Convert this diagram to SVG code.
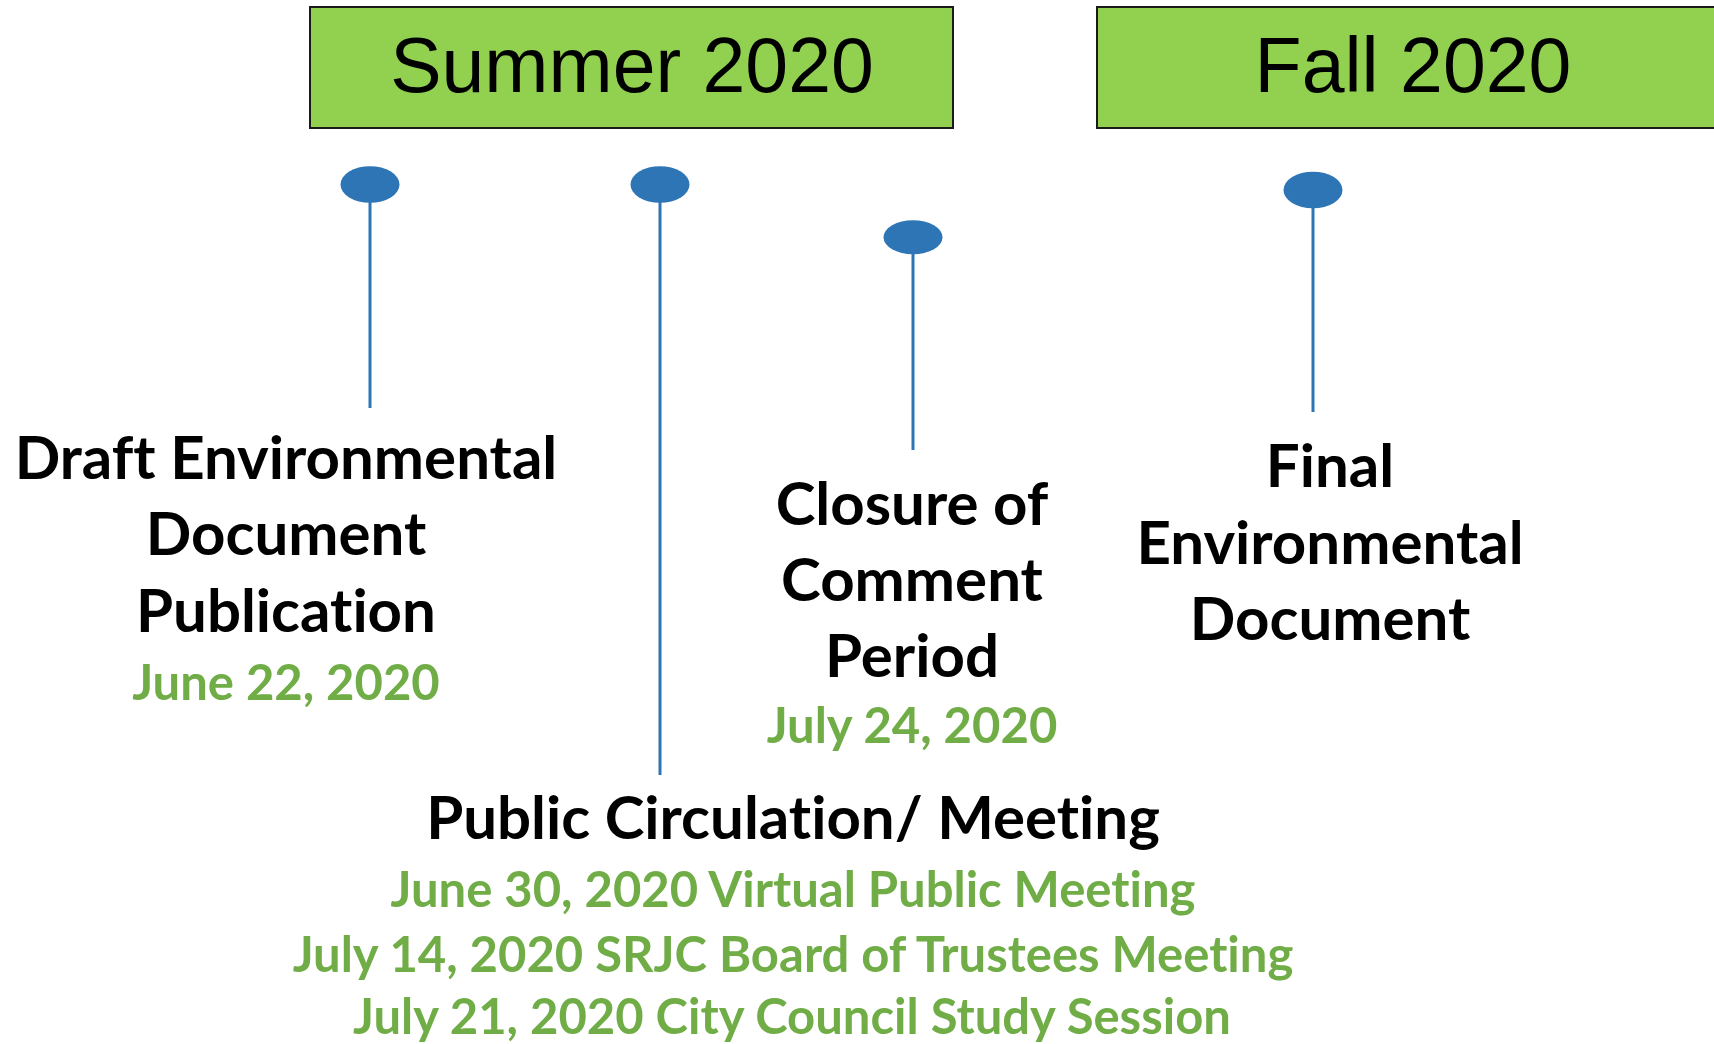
<svg xmlns="http://www.w3.org/2000/svg" width="1714" height="1044" viewBox="0 0 1714 1044">
<style>
.season{fill:#92D050;stroke:#1a1a1a;stroke-width:2}
.stitle{font-family:"Liberation Sans",Arial,sans-serif;font-size:77px;fill:#000;text-anchor:middle}
.pin{fill:#2E75B6}
.stem{stroke:#2E75B6;stroke-width:3;fill:none}
.lbl{font-family:Lato,"Noto Sans",sans-serif;font-weight:700;font-size:60px;fill:#000;text-anchor:middle;font-variant-ligatures:none}
.date{font-family:Lato,"Noto Sans",sans-serif;font-weight:700;font-size:49px;fill:#70AD47;text-anchor:middle;font-variant-ligatures:none}
</style>
<rect width="1714" height="1044" fill="#fff"/>
<g id="summer">
<rect class="season" x="310" y="7" width="643" height="121"/>
<text class="stitle" x="632" y="92">Summer 2020</text>
</g>
<g id="fall">
<rect class="season" x="1097" y="7" width="640" height="121"/>
<text class="stitle" x="1413" y="92">Fall 2020</text>
</g>
<g id="connectors">
<line class="stem" x1="370" y1="185" x2="370" y2="408"/>
<line class="stem" x1="660" y1="185" x2="660" y2="775"/>
<line class="stem" x1="913" y1="237" x2="913" y2="450"/>
<line class="stem" x1="1313" y1="190" x2="1313" y2="412"/>
</g>
<g id="draft">
<ellipse class="pin" cx="370" cy="184.5" rx="29.5" ry="18.3"/>
<text class="lbl" x="286" y="479">Draft Environmental</text>
<text class="lbl" x="286" y="555">Document</text>
<text class="lbl" x="286" y="632">Publication</text>
<text class="date" x="286" y="700">June 22, 2020</text>
</g>
<g id="public">
<ellipse class="pin" cx="660" cy="184.5" rx="29.5" ry="18.3"/>
<text class="lbl" x="793" y="839">Public Circulation/ Meeting</text>
<text class="date" x="793" y="907">June 30, 2020 Virtual Public Meeting</text>
<text class="date" x="793" y="972">July 14, 2020 SRJC Board of Trustees Meeting</text>
<text class="date" x="792" y="1034">July 21, 2020 City Council Study Session</text>
</g>
<g id="closure">
<ellipse class="pin" cx="913" cy="237.3" rx="29.5" ry="17"/>
<text class="lbl" x="912" y="525">Closure of</text>
<text class="lbl" x="912" y="601">Comment</text>
<text class="lbl" x="912" y="677">Period</text>
<text class="date" x="912" y="743">July 24, 2020</text>
</g>
<g id="final">
<ellipse class="pin" cx="1313" cy="190" rx="29.5" ry="18.3"/>
<text class="lbl" x="1330" y="487">Final</text>
<text class="lbl" x="1330" y="564">Environmental</text>
<text class="lbl" x="1330" y="640">Document</text>
</g>
</svg>
